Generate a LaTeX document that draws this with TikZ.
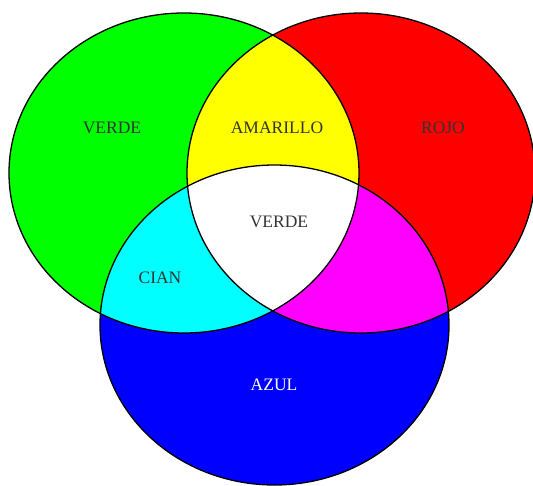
\documentclass[tikz,border=0pt]{standalone}
\usepackage{fontspec}
\setmainfont{Liberation Serif}
\definecolor{cG}{RGB}{0,255,0}
\definecolor{cR}{RGB}{255,0,0}
\definecolor{cB}{RGB}{0,0,255}
\definecolor{cY}{RGB}{255,255,0}
\definecolor{cC}{RGB}{0,255,255}
\definecolor{cM}{RGB}{255,0,255}
\begin{document}
\begin{tikzpicture}[x=1pt,y=-1pt,
  lbl/.style={font=\fontsize{17.5}{20}\selectfont, text=black!80},
  edge/.style={draw=black, line width=1.3pt}]
\useasboundingbox (0,0) rectangle (533,485);
\def\gre{(184,173) ellipse [x radius=175, y radius=160]}
\def\red{(361,173) ellipse [x radius=174, y radius=160]}
\def\blu{(274.5,325) ellipse [x radius=174.5, y radius=160]}
\fill[cG] \gre;
\fill[cR] \red;
\fill[cB] \blu;
\begin{scope}\clip \gre; \fill[cY] \red; \end{scope}
\begin{scope}\clip \gre; \fill[cC] \blu; \end{scope}
\begin{scope}\clip \red; \fill[cM] \blu; \end{scope}
\begin{scope}\clip \gre; \clip \red; \fill[white] \blu; \end{scope}
\draw[edge] \gre;
\draw[edge] \red;
\draw[edge] \blu;
\node[lbl] (verde) at (112,128) {VERDE};
\node[lbl] (amarillo) at (277,128) {AMARILLO};
\node[lbl] (rojo) at (443,128) {ROJO};
\node[lbl] (centro) at (279,222) {VERDE};
\node[lbl] (cian) at (160,278) {CIAN};
\node[lbl, text=white] (azul) at (274,385) {AZUL};
\end{tikzpicture}
\end{document}
